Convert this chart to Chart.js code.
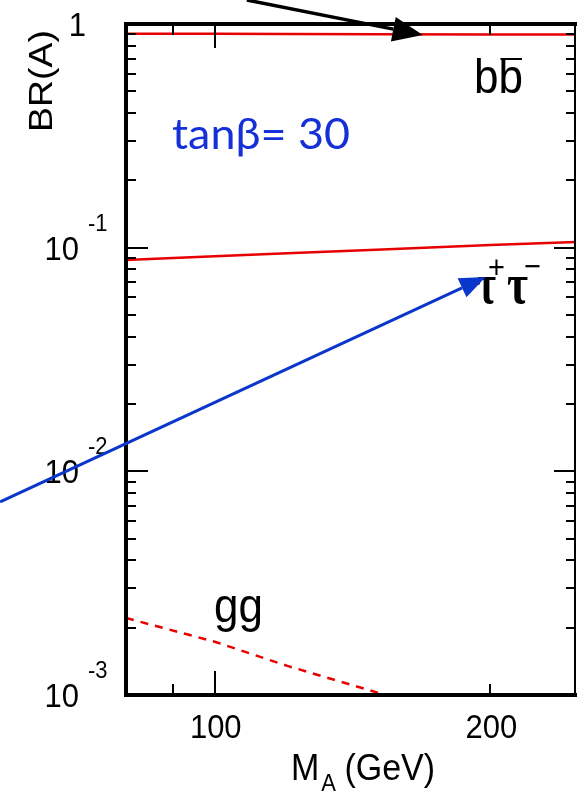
<!DOCTYPE html>
<html>
<head>
<meta charset="utf-8">
<script src="https://cdn.jsdelivr.net/npm/chart.js@4/dist/chart.umd.min.js"></script>
<style>
  body { margin: 0; background: #fff; }
  #wrap { width: 577px; height: 794px; position: relative; }
</style>
</head>
<body>
<div id="wrap"><canvas id="brChart"></canvas></div>
<script>
// M_A (GeV) points for the b-bbar and tau tau curves
const massGeV = [80, 100, 120, 150, 200, 248];
const brBB = [0.905, 0.905, 0.903, 0.900, 0.898, 0.897];
const brTauTau = [0.088, 0.0915, 0.0943, 0.098, 0.1028, 0.106];
// gg curve runs off the bottom of the frame
const massGG = [80, 100, 120, 150, 160];
const brGG = [0.00221, 0.00173, 0.00135, 0.00103, 0.00093];

// axis ticks
const yMajorTicks = [1, 0.1, 0.01, 0.001];
const yTickLabels = [['1', ''], ['10', '-1'], ['10', '-2'], ['10', '-3']];
const xMajorTicks = [100];
const xMinorTicks = [90, 200];
const xTickLabels = [100, 200];

const SANS = '"Liberation Sans", Arial, sans-serif';
const SERIF = '"Liberation Serif", "DejaVu Serif", serif';
const STRETCH = 1.1; // reference text is slightly tall

function toXY(xs, ys) {
    return xs.map((x, i) => ({ x: x, y: ys[i] }));
}

function txt(ctx, s, x, y, font, color, align, fitWidth) {
    ctx.save();
    ctx.font = font;
    let sx = 1;
    if (fitWidth) sx = fitWidth / ctx.measureText(s).width;
    ctx.translate(x, y);
    ctx.scale(sx, STRETCH);
    ctx.fillStyle = color;
    ctx.textAlign = align || 'left';
    ctx.textBaseline = 'alphabetic';
    ctx.fillText(s, 0, 0);
    ctx.restore();
}

function arrow(ctx, x0, y0, x1, y1, color, lw, headLen, headW) {
    const a = Math.atan2(y1 - y0, x1 - x0);
    const bx = x1 - headLen * Math.cos(a), by = y1 - headLen * Math.sin(a);
    ctx.save();
    ctx.strokeStyle = color;
    ctx.fillStyle = color;
    ctx.lineWidth = lw;
    ctx.beginPath();
    ctx.moveTo(x0, y0);
    ctx.lineTo(bx, by);
    ctx.stroke();
    ctx.beginPath();
    ctx.moveTo(x1, y1);
    ctx.lineTo(bx + headW / 2 * Math.sin(a), by - headW / 2 * Math.cos(a));
    ctx.lineTo(bx - headW / 2 * Math.sin(a), by + headW / 2 * Math.cos(a));
    ctx.closePath();
    ctx.fill();
    ctx.restore();
}

const framePlugin = {
    id: 'frame',
    afterDatasetsDraw(chart) {
        const ctx = chart.ctx;
        const a = chart.chartArea;
        const xs = chart.scales.x, ys = chart.scales.y;

        // frame
        ctx.save();
        ctx.strokeStyle = '#000';
        ctx.lineCap = 'square';
        ctx.lineWidth = 2;
        ctx.beginPath();
        ctx.moveTo(a.right - 1, a.top);
        ctx.lineTo(a.right - 1, a.bottom);
        ctx.stroke();
        ctx.lineWidth = 4;
        ctx.beginPath();
        ctx.moveTo(a.right, a.top);
        ctx.lineTo(a.left, a.top);
        ctx.lineTo(a.left, a.bottom);
        ctx.lineTo(a.right, a.bottom);
        ctx.stroke();

        // y ticks, both sides, pointing in
        ctx.lineWidth = 2;
        ctx.lineCap = 'butt';
        const yMinor = [];
        yMajorTicks.slice(1).forEach(d => {
            for (let k = 2; k <= 9; k++) yMinor.push(d * k);
        });
        const yTick = (v, len) => {
            const py = Math.round(ys.getPixelForValue(v));
            ctx.beginPath();
            ctx.moveTo(a.left, py); ctx.lineTo(a.left + len, py);
            ctx.moveTo(a.right, py); ctx.lineTo(a.right - len, py);
            ctx.stroke();
        };
        yMajorTicks.forEach(v => yTick(v, 22));
        yMinor.forEach(v => yTick(v, 10));

        // x ticks, top and bottom
        const xTick = (v, len) => {
            const px = Math.round(xs.getPixelForValue(v));
            ctx.beginPath();
            ctx.moveTo(px, a.bottom); ctx.lineTo(px, a.bottom - len);
            ctx.moveTo(px, a.top); ctx.lineTo(px, a.top + len);
            ctx.stroke();
        };
        xMajorTicks.forEach(v => xTick(v, 24));
        xMinorTicks.forEach(v => xTick(v, 11));
        ctx.restore();

        // y tick labels
        yMajorTicks.forEach((v, i) => {
            const py = ys.getPixelForValue(v);
            const [base, sup] = yTickLabels[i];
            if (!sup) {
                txt(ctx, base, 86, py + 12, '31px ' + SANS, '#000', 'right');
            } else {
                txt(ctx, base, 79, py + 12, '31px ' + SANS, '#000', 'right');
                txt(ctx, sup, 88, py - 17, '22px ' + SANS, '#000', 'left');
            }
        });

        // x tick labels
        xTickLabels.forEach(v => {
            txt(ctx, String(v), xs.getPixelForValue(v) + 1, 738, '31px ' + SANS, '#000', 'center');
        });

        // x title: M_A (GeV)
        ctx.save();
        ctx.font = '34px ' + SANS;
        const wM = ctx.measureText('M').width;
        ctx.font = '22px ' + SANS;
        const wA = ctx.measureText('A').width;
        ctx.restore();
        txt(ctx, 'M', 291, 780, '34px ' + SANS, '#000');
        txt(ctx, 'A', 291 + wM + 2, 791, '22px ' + SANS, '#000');
        txt(ctx, ' (GeV)', 291 + wM + wA + 1, 780, '34px ' + SANS, '#000');

        // y title: BR(A)
        ctx.save();
        ctx.translate(52, 81);
        ctx.rotate(-Math.PI / 2);
        ctx.scale(STRETCH, 1);
        ctx.font = '34px ' + SANS;
        ctx.fillStyle = '#000';
        ctx.textAlign = 'center';
        ctx.fillText('BR(A)', 0, 0);
        ctx.restore();

        // curve labels
        txt(ctx, 'bb', 474, 93, '44px ' + SANS, '#000');
        ctx.save();
        ctx.font = '44px ' + SANS;
        const wb = ctx.measureText('b').width;
        ctx.strokeStyle = '#000';
        ctx.lineWidth = 2;
        ctx.beginPath();
        ctx.moveTo(474 + wb + 2, 59);
        ctx.lineTo(474 + 2 * wb - 1, 59);
        ctx.stroke();
        ctx.restore();

        txt(ctx, '\u03c4', 477, 303, 'bold 52px ' + SERIF, '#000', 'left', 19);
        txt(ctx, '+', 488, 278, '29px ' + SANS, '#000');
        txt(ctx, '\u03c4', 507, 303, 'bold 52px ' + SERIF, '#000', 'left', 21);
        txt(ctx, '\u2212', 524, 277, '29px ' + SANS, '#000');

        txt(ctx, 'gg', 214, 622, '44px ' + SANS, '#000');

        txt(ctx, 'tan\u03b2= 30', 172, 149, '39px Lato, "Open Sans", sans-serif', '#1530d8', 'left', 178);

        // arrows, given in data coordinates
        arrow(ctx,
            xs.getPixelForValue(108.4), ys.getPixelForValue(1.28),
            xs.getPixelForValue(168.7), ys.getPixelForValue(0.893),
            '#000', 3.5, 30, 25);
        arrow(ctx,
            xs.getPixelForValue(58.3), ys.getPixelForValue(0.0073),
            xs.getPixelForValue(197.6), ys.getPixelForValue(0.074),
            '#0a36cc', 3, 26, 21);
    }
};

function initChart() {
    const ctx = document.getElementById('brChart').getContext('2d');
    new Chart(ctx, {
        type: 'line',
        data: {
            datasets: [{
                label: 'bb',
                data: toXY(massGeV, brBB),
                borderColor: '#e80000',
                borderWidth: 2.5,
                pointRadius: 0,
                tension: 0
            }, {
                label: 'tautau',
                data: toXY(massGeV, brTauTau),
                borderColor: '#e80000',
                borderWidth: 2.5,
                pointRadius: 0,
                tension: 0
            }, {
                label: 'gg',
                data: toXY(massGG, brGG),
                borderColor: '#e80000',
                borderWidth: 2.5,
                borderDash: [8, 7],
                pointRadius: 0,
                tension: 0
            }]
        },
        options: {
            responsive: true,
            maintainAspectRatio: false,
            animation: false,
            layout: { padding: { left: 126, right: 1, top: 24, bottom: 99 } },
            plugins: { legend: { display: false }, tooltip: { enabled: false } },
            scales: {
                x: { type: 'logarithmic', min: 80, max: 248, display: false },
                y: { type: 'logarithmic', min: 0.001, max: 1, display: false }
            }
        },
        plugins: [framePlugin]
    });
}

document.addEventListener('DOMContentLoaded', initChart);
</script>
</body>
</html>
